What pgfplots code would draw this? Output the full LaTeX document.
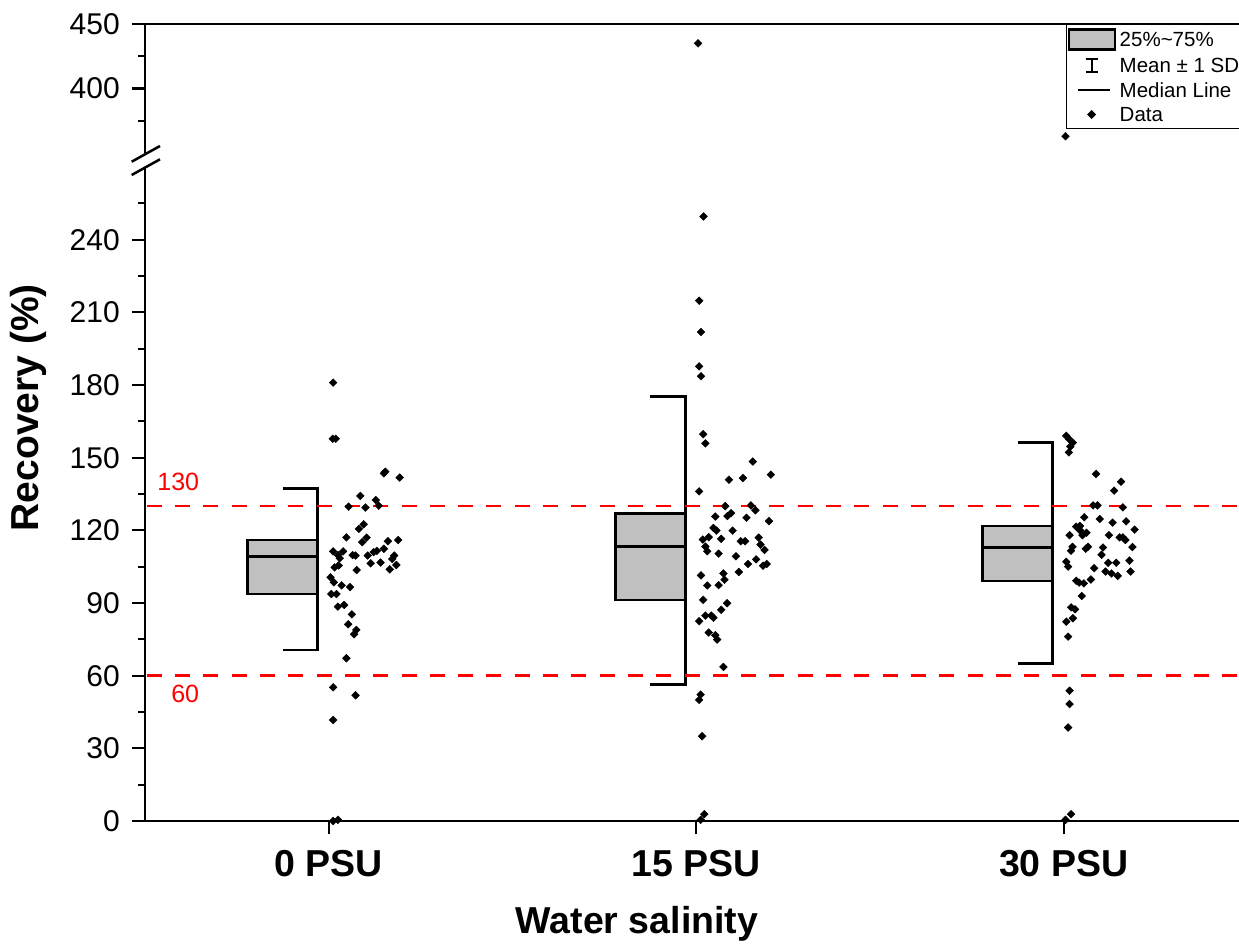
\documentclass[border=0pt]{standalone}
\usepackage{pgfplots}
\pgfplotsset{compat=1.18}
\usepackage{pgfplotstable}
\usepackage{fontspec}
\setmainfont{Liberation Sans}
\definecolor{boxgray}{RGB}{192,192,192}

\pgfplotstableread{
x y
0.012 181.0
0.011 157.8
0.019 157.8
0.150 143.5
0.154 144.2
0.193 141.8
0.086 134.2
0.128 132.5
0.136 130.2
0.054 129.8
0.100 129.4
0.095 122.5
0.082 120.6
0.103 117.0
0.048 117.1
0.091 115.1
0.161 115.5
0.189 116.0
0.150 112.4
0.131 111.5
0.012 111.3
0.039 111.3
0.025 109.8
0.030 108.5
0.065 109.8
0.073 109.6
0.106 109.6
0.122 111.0
0.114 106.4
0.141 106.7
0.178 109.6
0.173 108.2
0.184 105.7
0.166 103.9
0.016 104.7
0.027 105.5
0.076 103.6
0.005 100.6
0.014 98.5
0.035 97.3
0.058 96.6
0.007 93.7
0.021 93.7
0.025 88.5
0.042 89.2
0.063 85.3
0.053 81.2
0.075 78.9
0.069 77.1
0.048 67.2
0.012 55.2
0.073 51.9
0.012 41.7
0.012 0.0
0.025 0.5
}\dataA

\pgfplotstableread{
x y
1.020 249.6
1.008 214.8
1.013 201.9
1.008 187.7
1.013 183.6
1.019 159.7
1.025 155.9
1.154 148.4
1.203 143.0
1.089 140.9
1.127 141.6
1.008 136.1
1.079 130.0
1.149 130.3
1.161 128.3
1.095 127.1
1.085 125.9
1.052 125.7
1.137 125.2
1.198 123.8
1.047 121.0
1.055 119.9
1.099 119.9
1.034 117.2
1.018 116.2
1.068 116.5
1.170 117.0
1.121 115.5
1.133 115.5
1.175 114.1
1.025 113.3
1.030 111.4
1.186 111.9
1.061 110.4
1.108 109.3
1.163 108.0
1.141 106.1
1.182 105.4
1.192 106.1
1.116 102.8
1.013 101.4
1.074 102.2
1.030 97.2
1.061 97.4
1.077 99.6
1.019 91.3
1.084 89.9
1.068 87.2
1.025 84.8
1.041 84.8
1.047 83.9
1.008 82.5
1.034 77.8
1.052 76.7
1.057 74.9
1.074 63.6
1.012 52.2
1.008 50.0
1.016 35.0
1.022 2.8
1.012 0.5
1.005 435.0
}\dataB

\pgfplotstableread{
x y
2.007 159.0
2.015 157.6
2.025 156.2
2.018 154.6
2.014 152.2
2.088 143.3
2.156 140.1
2.137 136.4
2.080 130.3
2.092 130.3
2.161 129.5
2.056 125.4
2.098 124.7
2.133 123.2
2.170 123.7
2.193 120.3
2.034 121.5
2.044 121.8
2.045 119.9
2.062 119.0
2.051 118.0
2.016 118.0
2.123 118.0
2.152 117.1
2.168 116.0
2.161 117.1
2.187 113.1
2.066 113.2
2.060 112.4
2.024 113.2
2.020 111.6
2.107 112.9
2.103 109.9
2.007 107.0
2.012 105.0
2.179 107.5
2.121 106.6
2.143 106.6
2.083 104.4
2.114 103.0
2.130 102.2
2.147 101.2
2.182 103.0
2.074 99.7
2.034 99.2
2.042 98.4
2.055 98.1
2.049 92.9
2.020 88.2
2.031 87.4
2.025 83.7
2.007 82.3
2.012 76.1
2.016 53.8
2.016 48.3
2.012 38.6
2.020 2.8
2.005 0.5
2.005 363.0
}\dataC

\begin{document}
\begin{tikzpicture}
\pgfplotsset{
  common/.style={
    scale only axis, width=1094pt, xmin=-0.5, xmax=2.477,
    axis line style={line width=2.7pt, -},
    every outer x axis line/.append style={-},
    every outer y axis line/.append style={-},
    tick style={line width=2.1pt, black},
    tick align=outside,
    major tick length=13pt, minor tick length=7pt,
    /pgf/number format/assume math mode=true,
    yticklabel style={font=\fontsize{30}{32}\selectfont, inner sep=0pt, anchor=east, xshift=-12pt},
  },
  dots/.style={only marks, mark=square*, mark size=2.75pt, mark options={rotate=45, black, draw=black, fill=black}, forget plot},
  boxst/.style={fill=boxgray, draw=black, line width=2.7pt, forget plot},
  whisk/.style={black, line width=2.7pt, forget plot},
}
% lower axis
\begin{axis}[common, at={(0pt,0pt)}, anchor=south west, height=653pt,
  ymin=0, ymax=269.6,
  axis x line*=bottom, axis y line*=left,
  xtick={0,1,2}, xticklabels={0 PSU,15 PSU,30 PSU},
  xticklabel style={font=\bfseries\fontsize{37.5}{40}\selectfont, inner sep=0pt, text height=27pt, text depth=0pt, anchor=north, yshift=-15pt},
  ytick={0,30,...,240}, minor ytick={15,45,...,255},
  xlabel={Water salinity}, ylabel={Recovery (\%)},
  every axis x label/.style={at={(rel axis cs:0.4497,-0.157)}, anchor=center, font=\bfseries\fontsize{37.5}{40}\selectfont, inner sep=0pt},
  every axis y label/.style={at={(rel axis cs:-0.107,0.633)}, anchor=center, rotate=90, font=\bfseries\fontsize{39}{42}\selectfont, inner sep=0pt},
]
% 0 PSU
\addplot[whisk] coordinates {(-0.125,137.2) (-0.0299,137.2) (-0.0299,70.6) (-0.125,70.6)};
\addplot[boxst] coordinates {(-0.2204,93.7) (-0.0299,93.7) (-0.0299,116.0) (-0.2204,116.0)} -- cycle;
\addplot[whisk] coordinates {(-0.2204,109.1) (-0.0299,109.1)};
% 15 PSU
\addplot[whisk] coordinates {(0.875,175.2) (0.9701,175.2) (0.9701,56.5) (0.875,56.5)};
\addplot[boxst] coordinates {(0.7796,91.3) (0.9701,91.3) (0.9701,127.1) (0.7796,127.1)} -- cycle;
\addplot[whisk] coordinates {(0.7796,113.3) (0.9701,113.3)};
% 30 PSU
\addplot[whisk] coordinates {(1.875,156.2) (1.9701,156.2) (1.9701,65.0) (1.875,65.0)};
\addplot[boxst] coordinates {(1.7796,99.1) (1.9701,99.1) (1.9701,121.8) (1.7796,121.8)} -- cycle;
\addplot[whisk] coordinates {(1.7796,113.0) (1.9701,113.0)};
% limits
\addplot[red, line width=2.6pt, dash pattern=on 15pt off 13.3pt, forget plot] coordinates {(-0.495,130) (2.477,130)};
\addplot[red, line width=2.6pt, dash pattern=on 15pt off 13.3pt, forget plot] coordinates {(-0.495,60) (2.477,60)};
\node[red, font=\fontsize{25}{26}\selectfont, inner sep=0pt] at (axis cs:-0.4095,140.0) {130};
\node[red, font=\fontsize{25}{26}\selectfont, inner sep=0pt] at (axis cs:-0.3905,52.6) {60};
% data
\addplot[dots] table {\dataA};
\addplot[dots] table {\dataB};
\addplot[dots] table {\dataC};
\end{axis}
% upper axis
\begin{axis}[common, at={(0pt,668pt)}, anchor=south west, height=129pt,
  ymin=350, ymax=450,
  axis x line*=top, axis y line*=left,
  xtick=\empty, ytick={400,450}, minor ytick={375,425},
  legend cell align=left,
  legend style={at={(0.8419,1)}, anchor=north west, draw=black, line width=1pt, fill=white,
    font=\fontsize{20.5}{22}\selectfont, inner xsep=1pt, inner ysep=4pt, row sep=5pt, column sep=4pt,
    nodes={inner sep=0pt, text height=17pt, text depth=2.5pt}},
]
\addlegendimage{legend image code/.code={\draw[fill=boxgray, draw=black, line width=2.2pt] (0pt,-10pt) rectangle (46pt,10pt);}}
\addlegendentry{25\%\textasciitilde 75\%}
\addlegendimage{legend image code/.code={\path[draw=none, fill=none] (0pt,0pt) -- (46pt,0pt); \draw[black, line width=1.9pt] (17pt,-6.3pt) -- (29pt,-6.3pt) (23pt,-6.3pt) -- (23pt,6.3pt) (17pt,6.3pt) -- (29pt,6.3pt);}}
\addlegendentry{Mean ± 1 SD}
\addlegendimage{legend image code/.code={\path[draw=none, fill=none] (0pt,0pt) -- (46pt,0pt); \draw[black, line width=2.1pt] (9pt,0pt) -- (41pt,0pt);}}
\addlegendentry{Median Line}
\addlegendimage{legend image code/.code={\path[draw=none, fill=none] (0pt,0pt) -- (46pt,0pt); \fill[black] (23pt,3.8pt) -- (26.8pt,0pt) -- (23pt,-3.8pt) -- (19.2pt,0pt) -- cycle;}}
\addlegendentry{Data}
\addplot[dots] table {\dataA};
\addplot[dots] table {\dataB};
\addplot[dots] table {\dataC};
\end{axis}
% axis break marks
\draw[line width=2.5pt] (-13.3pt,659.3pt) -- (15pt,675pt);
\draw[line width=2.5pt] (-13.3pt,646pt) -- (15pt,661.7pt);
\pgfresetboundingbox
\useasboundingbox (-145pt,-122pt) rectangle (1094pt,821pt);
\end{tikzpicture}
\end{document}
